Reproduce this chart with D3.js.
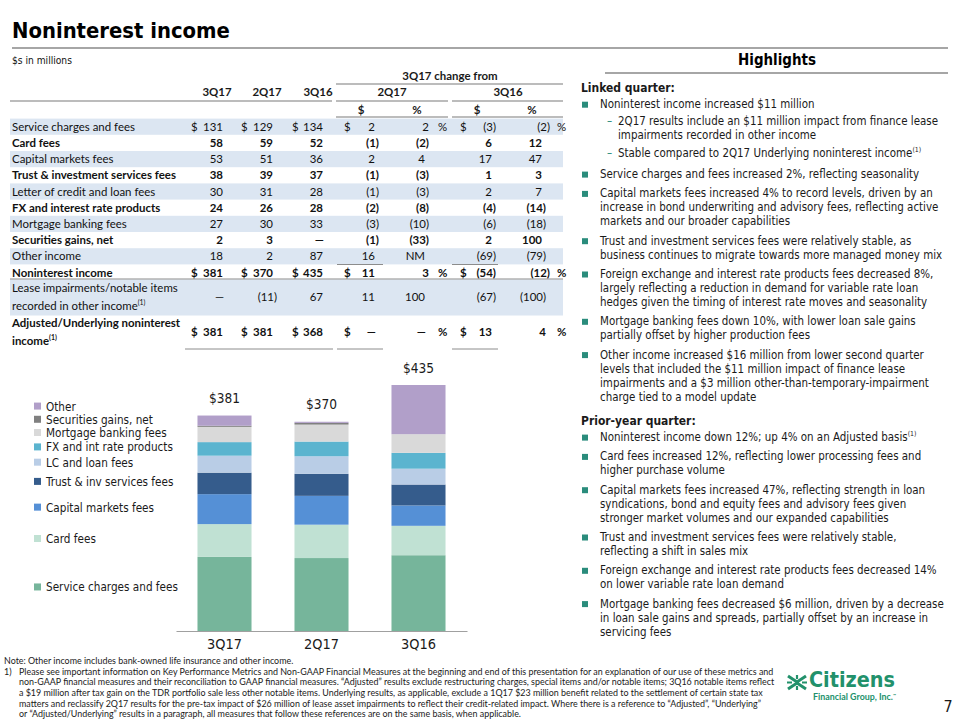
<!DOCTYPE html>
<html><head><meta charset="utf-8">
<script src="https://cdn.jsdelivr.net/npm/d3@7/dist/d3.min.js"></script>
<style>html,body{margin:0;padding:0;background:#fff;}svg{display:block;}</style>
</head><body>
<script>
// ---------------- DATA ----------------
const periods = ["3Q17", "2Q17", "3Q16"];
const seriesNames = ["Service charges and fees","Card fees","Capital markets fees","Trust & inv services fees","LC and loan fees","FX and int rate products","Mortgage banking fees","Securities gains, net","Other"];
const serviceCharges = [131, 129, 134];
const cardFees = [58, 59, 52];
const capitalMarkets = [53, 51, 36];
const trustInv = [38, 39, 37];
const lcLoan = [30, 31, 28];
const fxRate = [24, 26, 28];
const mortgage = [27, 30, 33];
const securities = [2, 3, 0];
const otherIncome = [18, 2, 87];
const totals = [381, 370, 435];
const seriesColors = ["#76b59b","#c0e1d3","#5590d6","#355c8c","#b9cde6","#5bb4cf","#d9d9d9","#808080","#b19fc9"];

// table
const rowLabels = [["Service charges and fees"],["Card fees"],["Capital markets fees"],["Trust & investment services fees"],["Letter of credit and loan fees"],["FX and interest rate products"],["Mortgage banking fees"],["Securities gains, net"],["Other income"],["Noninterest income"],["Lease impairments/notable items","recorded in other income"],["Adjusted/Underlying noninterest","income"]];
const rowBold = [0,1,0,1,0,1,0,1,0,1,0,1];
const rowSup = [0,0,0,0,0,0,0,0,0,0,1,1];
const col3Q17 = ["131","58","53","38","30","24","27","2","18","381","—","381"];
const col2Q17 = ["129","59","51","39","31","26","30","3","2","370","(11)","381"];
const col3Q16 = ["134","52","36","37","28","28","33","—","87","435","67","368"];
const chg2Q17Dollar = ["2","(1)","2","(1)","(1)","(2)","(3)","(1)","16","11","11","—"];
const chg2Q17Pct = ["2","(2)","4","(3)","(3)","(8)","(10)","(33)","NM","3","100","—"];
const chg3Q16Dollar = ["(3)","6","17","1","2","(4)","(6)","2","(69)","(54)","(67)","13"];
const chg3Q16Pct = ["(2)","12","47","3","7","(14)","(18)","100","(79)","(12)","(100)","4"];
const dollarRows = [0, 9, 11];
const headerCols = ["3Q17","2Q17","3Q16"];
const changeHeader = "3Q17 change from";
const changeGroups = ["2Q17","3Q16"];

// highlights
const highlights = [
 {t:"head", lines:["Linked quarter:"]},
 {t:"bullet", lines:["Noninterest income increased $11 million"]},
 {t:"dash", lines:["2Q17 results include an $11 million impact from finance lease","impairments recorded in other income"]},
 {t:"dash", lines:["Stable compared to 2Q17 Underlying noninterest income"], sup:true},
 {t:"bullet", lines:["Service charges and fees increased 2%, reflecting seasonality"]},
 {t:"bullet", lines:["Capital markets fees increased 4% to record levels, driven by an","increase in bond underwriting and advisory fees, reflecting active","markets and our broader capabilities"]},
 {t:"bullet", lines:["Trust and investment services fees were relatively stable, as","business continues to migrate towards more managed money mix"]},
 {t:"bullet", lines:["Foreign exchange and interest rate products fees decreased 8%,","largely reflecting a reduction in demand for variable rate loan","hedges given the timing of interest rate moves and seasonality"]},
 {t:"bullet", lines:["Mortgage banking fees down 10%, with lower loan sale gains","partially offset by higher production fees"]},
 {t:"bullet", lines:["Other income increased $16 million from lower second quarter","levels that included the $11 million impact of finance lease","impairments and a $3 million other-than-temporary-impairment","charge tied to a model update"]},
 {t:"head", lines:["Prior-year quarter:"]},
 {t:"bullet", lines:["Noninterest income down 12%; up 4% on an Adjusted basis"], sup:true},
 {t:"bullet", lines:["Card fees increased 12%, reflecting lower processing fees and","higher purchase volume"]},
 {t:"bullet", lines:["Capital markets fees increased 47%, reflecting strength in loan","syndications, bond and equity fees and advisory fees given","stronger market volumes and our expanded capabilities"]},
 {t:"bullet", lines:["Trust and investment services fees were relatively stable,","reflecting a shift in sales mix"]},
 {t:"bullet", lines:["Foreign exchange and interest rate products fees decreased 14%","on lower variable rate loan demand"]},
 {t:"bullet", lines:["Mortgage banking fees decreased $6 million, driven by a decrease","in loan sale gains and spreads, partially offset by an increase in","servicing fees"]}
];
const footerNote = "Note: Other income includes bank-owned life insurance and other income.";
const footerLines = [
 "Please see important information on Key Performance Metrics and Non-GAAP Financial Measures at the beginning and end of this presentation for an explanation of our use of these metrics and",
 "non-GAAP financial measures and their reconciliation to GAAP financial measures. “Adjusted” results exclude restructuring charges, special items and/or notable items; 3Q16 notable items reflect",
 "a $19 million after tax gain on the TDR portfolio sale less other notable items. Underlying results, as applicable, exclude a 1Q17 $23 million benefit related to the settlement of certain state tax",
 "matters and reclassify 2Q17 results for the pre-tax impact  of $26 million of lease asset impairments to reflect their credit-related impact. Where there is a reference to “Adjusted”, “Underlying”",
 "or “Adjusted/Underlying” results in a paragraph, all measures that follow these references are on the same basis, when applicable."
];

// ---------------- DRAW ----------------
const W = 960, H = 720;
const svg = d3.select("body").append("svg").attr("width", W).attr("height", H);
const SANS = "'DejaVu Sans Condensed','DejaVu Sans',sans-serif";
const CAL = "Lato,'Open Sans',sans-serif";
const GREEN = "#22916b";
const TEAL = "#2a8c7c";
const LINE = "#a6a6a6";

function fit(text, family, weight, target) {
  const t = svg.append("text").attr("font-family", family).attr("font-weight", weight).attr("font-size", 20).text(text);
  const w = t.node().getComputedTextLength();
  t.remove();
  return 20 * target / w;
}
function txt(g, x, y, s, o) {
  o = o || {};
  return g.append("text").attr("x", x).attr("y", y).text(s)
    .attr("font-family", o.f || SANS).attr("font-size", o.s || 12)
    .attr("font-weight", o.w || "normal").attr("fill", o.c || "#1a1a1a")
    .attr("text-anchor", o.a || "start");
}

// Title
const titleSize = fit("Noninterest income", SANS, "bold", 218);
txt(svg, 12, 38, "Noninterest income", {s: titleSize, w: "bold", c: "#000"});
svg.append("line").attr("x1", 12).attr("x2", 948).attr("y1", 48).attr("y2", 48).attr("stroke", LINE).attr("stroke-width", 2);
txt(svg, 12, 64, "$s in millions", {s: fit("$s in millions", SANS, "normal", 60), c: "#111"});

// ---------------- TABLE ----------------
const tg = svg.append("g");
const tSize = fit("Service charges and fees", CAL, "normal", 123);
const rowY = i => i < 10 ? 126.7 + i * 16.2 : (i === 10 ? 297 : 331.5);
rowLabels.forEach((l, i) => {
  if (i % 2 === 0 && i < 11) {
    const top = i === 10 ? 279.5 : rowY(i) - 8.1;
    const bot = i === 10 ? 315.5 : rowY(i) + 8.1;
    tg.append("rect").attr("x", 10).attr("y", top).attr("width", 553).attr("height", bot - top).attr("fill", "#dce6f2");
  }
});
txt(tg, 450, 80, changeHeader, {f: CAL, s: tSize, w: "bold", a: "middle"});
const hx = [217, 267, 318];
headerCols.forEach((h, i) => txt(tg, hx[i], 96, h, {f: CAL, s: tSize, w: "bold", a: "middle"}));
const gx = [392, 508];
changeGroups.forEach((h, i) => txt(tg, gx[i], 96, h, {f: CAL, s: tSize, w: "bold", a: "middle"}));
[[361, "$"], [417, "%"], [477, "$"], [532, "%"]].forEach(d => txt(tg, d[0], 114, d[1], {f: CAL, s: tSize, w: "bold", a: "middle"}));
function hline(x1, x2, y, c, w) { tg.append("line").attr("x1", x1).attr("x2", x2).attr("y1", y).attr("y2", y).attr("stroke", c || LINE).attr("stroke-width", w || 1.5); }
hline(336, 563, 84);
hline(10, 332, 101); hline(336, 448, 101); hline(452, 563, 101);
hline(336, 448, 117); hline(452, 563, 117);

const cols = [
  {vals: col3Q17, r: 223, d: 191, pct: null},
  {vals: col2Q17, r: 273, d: 241, pct: null},
  {vals: col3Q16, r: 323, d: 292, pct: null},
  {vals: chg2Q17Dollar, r: 375, d: 344, pct: null},
  {vals: chg2Q17Pct, r: 425, d: null, pct: 434},
  {vals: chg3Q16Dollar, r: 492, d: 460, pct: null},
  {vals: chg3Q16Pct, r: 542, d: null, pct: 553}
];
rowLabels.forEach((lines, i) => {
  const y = rowY(i);
  const wt = rowBold[i] ? "bold" : "normal";
  const o = {f: CAL, s: tSize, w: wt, c: "#111"};
  if (lines.length === 1) {
    txt(tg, 12, y + 4, lines[0], o);
  } else {
    txt(tg, 12, y - 9 + 4, lines[0], o);
    const t2 = txt(tg, 12, y + 9 + 4, lines[1], o);
    if (rowSup[i]) t2.append("tspan").attr("dy", -5).attr("font-size", tSize * 0.6).text("(1)");
  }
  const isD = dollarRows.includes(i);
  cols.forEach(c => {
    const v = c.vals[i];
    const paren = v.startsWith("(");
    let r = c.r + (paren ? 4 : 0);
    if (c.pct && isD) r = c.r + 4 + (paren ? 4 : 0);
    if (v === "—") r = c.r + 1;
    txt(tg, r, y + 4, v, {f: CAL, s: tSize, w: wt, a: "end", c: "#111"});
    if (isD && c.d) txt(tg, c.d, y + 4, "$", {f: CAL, s: tSize, w: wt, c: "#111"});
    if (isD && c.pct) txt(tg, c.pct + 4, y + 4, "%", {f: CAL, s: tSize, w: wt, c: "#111"});
  });
});
hline(337, 383, 264.5, "#8c8c8c", 1); hline(452, 498, 264.5, "#8c8c8c", 1);
hline(10, 563, 279, "#8c8c8c", 1.2);
hline(185, 333, 349, "#8c8c8c", 1); hline(337, 383, 349, "#8c8c8c", 1); hline(452, 498, 349, "#8c8c8c", 1);

// ---------------- CHART ----------------
const cg = svg.append("g");
const x = d3.scaleBand().domain(periods).range([176, 467]).padding(0);
const barW = x.bandwidth() * 0.557;
const y = d3.scaleLinear().domain([0, 435]).range([631, 385]);
const allSeries = [serviceCharges, cardFees, capitalMarkets, trustInv, lcLoan, fxRate, mortgage, securities, otherIncome];
const rows = periods.map((p, j) => { const o = {period: p}; seriesNames.forEach((n, k) => o[n] = allSeries[k][j]); return o; });
const stacked = d3.stack().keys(seriesNames)(rows);
stacked.forEach((s, k) => {
  cg.selectAll(null).data(s).enter().append("rect")
    .attr("x", d => x(d.data.period) + (x.bandwidth() - barW) / 2)
    .attr("width", barW)
    .attr("y", d => y(d[1]))
    .attr("height", d => y(d[0]) - y(d[1]))
    .attr("fill", seriesColors[k]);
});
const axis = cg.append("g").attr("transform", "translate(0,631)").call(d3.axisBottom(x).tickSize(0).tickPadding(6));
axis.select(".domain").attr("stroke", "#a0a0a0").attr("stroke-width", 1.2);
const catSize = fit("3Q17", SANS, "normal", 35);
axis.selectAll(".tick text").attr("font-family", SANS).attr("font-size", catSize).attr("fill", "#1a1a1a").attr("dy", "0.85em");
const valSize = fit("$435", SANS, "normal", 31);
cg.selectAll(null).data(periods).enter().append("text")
  .attr("x", d => x(d) + x.bandwidth() / 2)
  .attr("y", (d, j) => y(totals[j]) - 12.5)
  .attr("text-anchor", "middle").attr("font-family", SANS).attr("font-size", valSize).attr("fill", "#1a1a1a")
  .text((d, j) => "$" + totals[j]);

// legend aligned to first bar segments
const legSize = fit("Service charges and fees", SANS, "normal", 132);
const first = stacked.map(s => (y(s[0][0]) + y(s[0][1])) / 2);
const legY = [];
for (let k = 0; k < first.length; k++) {
  let v = first[k] - (k === 0 ? 7 : 2);
  if (k > 0) v = Math.min(v, legY[k - 1] - 13.2);
  legY.push(v);
}
seriesNames.forEach((n, k) => {
  cg.append("rect").attr("x", 34).attr("y", legY[k] - 3.5).attr("width", 7).attr("height", 7).attr("fill", seriesColors[k]);
  txt(cg, 46, legY[k] + 4.5, n, {s: legSize, c: "#1a1a1a"});
});

// ---------------- HIGHLIGHTS ----------------
const hg = svg.append("g");
txt(hg, 777, 65, "Highlights", {s: fit("Highlights", SANS, "bold", 78), w: "bold", a: "middle", c: "#000"});
hg.append("line").attr("x1", 605).attr("x2", 948).attr("y1", 73).attr("y2", 73).attr("stroke", LINE).attr("stroke-width", 2);
const bodySize = fit("Mortgage banking fees decreased $6 million, driven by a decrease", SANS, "normal", 344);
const headSize = fit("Linked quarter:", SANS, "bold", 94);
let cy = 86.7, prev = null;
highlights.forEach(item => {
  if (prev) {
    let gap = 19.3;
    if (prev === "head") gap = 17.5;
    else if (item.t === "head") gap = 23;
    else if (prev === "bullet" && item.t === "dash") gap = 16.7;
    else if (prev === "dash" && item.t === "dash") gap = 17.7;
    else if (prev === "dash" && item.t === "bullet") gap = 21.5;
    cy += gap;
  }
  item.lines.forEach((ln, li) => {
    const yy = cy + li * 14;
    if (item.t === "head") {
      txt(hg, 581, yy + 5, ln, {s: headSize, w: "bold", c: "#1a1a1a"});
    } else {
      const tx = item.t === "bullet" ? 600 : 618;
      if (li === 0) {
        if (item.t === "bullet") hg.append("rect").attr("x", 582).attr("y", yy - 2.5).attr("width", 6).attr("height", 6).attr("fill", TEAL);
        else txt(hg, 607, yy + 4, "–", {s: bodySize, c: TEAL});
      }
      const t = txt(hg, tx, yy + 4, ln, {s: bodySize, c: "#1a1a1a"});
      if (item.sup && li === item.lines.length - 1) t.append("tspan").attr("dy", -5).attr("font-size", bodySize * 0.6).text("(1)");
    }
  });
  cy += (item.lines.length - 1) * 14;
  prev = item.t;
});

// ---------------- FOOTER ----------------
const fg = svg.append("g");
const footSize = fit(footerLines[1], CAL, "normal", 757);
txt(fg, 4, 663.5, footerNote, {f: CAL, s: footSize, c: "#1a1a1a"});
txt(fg, 4, 674.5, "1)", {f: CAL, s: footSize, c: "#1a1a1a"});
footerLines.forEach((l, i) => txt(fg, 19, 674.5 + i * 10.7, l, {f: CAL, s: footSize, c: "#1a1a1a"}));

// logo
const lg = svg.append("g");
lg.append("path").attr("d", "M788,676 L797,682 L806,676 M788,689 L797,683 L806,689").attr("stroke", GREEN).attr("stroke-width", 3).attr("fill", "none");
lg.append("path").attr("d", "M787,682.5 L792,682.5 M802,682.5 L807,682.5 M797,675 L797,679 M797,686 L797,690").attr("stroke", GREEN).attr("stroke-width", 2.2);
txt(lg, 809, 687, "Citizens", {s: fit("Citizens", SANS, "bold", 86), w: "bold", c: GREEN});
const fgT = txt(lg, 813, 699.5, "Financial Group, Inc.", {f: CAL, s: fit("Financial Group, Inc.", CAL, "bold", 80), w: "bold", c: GREEN});
fgT.append("tspan").attr("dy", -3).attr("font-size", 4).text("™");
txt(svg, 948, 712, "7", {s: 16, a: "middle", c: "#1a1a1a"});
</script>
</body></html>
